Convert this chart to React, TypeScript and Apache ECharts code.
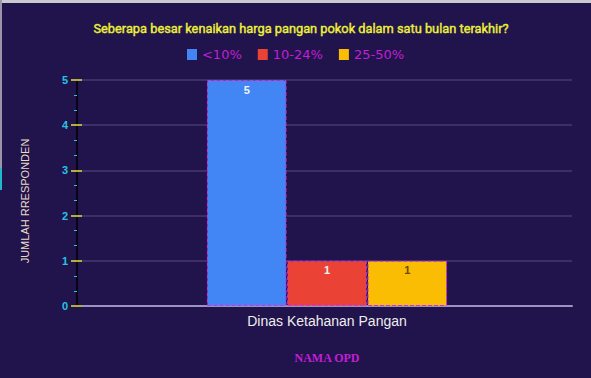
import React, { useEffect, useRef } from "react";
import * as echarts from "echarts";

const categories = ["Dinas Ketahanan Pangan"];
const seriesNames = ["<10%", "10-24%", "25-50%"];
const seriesValues = [[5], [1], [1]];
const seriesColors = ["#4285f4", "#ea4335", "#fbbc04"];
const labelColors = ["#f4f4f4", "#f4f4f4", "#6a4a00"];
const yTicks = [0, 1, 2, 3, 4, 5];

export default function App() {
  const ref = useRef<HTMLDivElement>(null);
  useEffect(() => {
    document.body.style.margin = "0";
    const chart = echarts.init(ref.current!, null, { renderer: "svg" });
    chart.setOption({
      animation: false,
      backgroundColor: "#21134b",
      title: {
        text: "Seberapa besar kenaikan harga pangan pokok dalam satu bulan terakhir?",
        left: 296,
        textAlign: "center",
        top: 17,
        textStyle: {
          color: "#eef03a",
          fontSize: 12.8,
          fontWeight: "normal",
          fontFamily: "Roboto, sans-serif",
          textBorderColor: "#eef03a",
          textBorderWidth: 0.4,
        },
      },
      legend: {
        top: 43,
        left: "center",
        itemWidth: 10,
        itemHeight: 11,
        itemGap: 16,
        icon: "rect",
        data: seriesNames,
        itemStyle: { borderWidth: 0 },
        textStyle: {
          color: "#c21fd6",
          fontSize: 13,
          fontFamily: "DejaVu Sans, sans-serif",
        },
      },
      graphic: [
        {
          type: "text",
          x: 25,
          y: 201,
          rotation: Math.PI / 2,
          style: {
            text: "JUMLAH RRESPONDEN",
            fill: "#e8dcc8",
            fontSize: 11,
            fontFamily: "Liberation Sans, Arial, sans-serif",
            align: "center",
            verticalAlign: "middle",
          },
        },
      ],
      grid: { left: 82, right: 19, top: 80, bottom: 72 },
      xAxis: {
        type: "category",
        data: categories,
        name: "NAMA OPD",
        nameLocation: "middle",
        nameGap: 46,
        nameTextStyle: {
          color: "#c21fd6",
          fontSize: 12,
          fontWeight: "bold",
          fontFamily: "Liberation Serif, Times New Roman, serif",
        },
        axisLine: { show: true, lineStyle: { color: "#9c93c4", width: 2 } },
        axisTick: { show: false },
        axisLabel: {
          color: "#eeeeee",
          fontSize: 14,
          margin: 8,
          fontFamily: "Liberation Sans, Arial, sans-serif",
        },
      },
      yAxis: [
        {
          type: "value",
          min: yTicks[0],
          max: yTicks[yTicks.length - 1],
          interval: 1,
          axisLine: { show: false },
          axisTick: { show: true, length: 11, lineStyle: { color: "#b3ad3a", width: 2 } },
          axisLabel: {
            color: "#25c3e6",
            fontSize: 11,
            fontWeight: "bold",
            margin: 14,
            fontFamily: "Liberation Sans, Arial, sans-serif",
          },
          splitLine: { show: true, lineStyle: { color: "#463a6e", width: 1.5 } },
        },
        {
          type: "value",
          min: yTicks[0],
          max: yTicks[yTicks.length - 1],
          interval: 1,
          position: "left",
          offset: 5,
          axisLine: { show: true, lineStyle: { color: "#000000", width: 1.5 } },
          axisTick: { show: false },
          minorTick: { show: true, splitNumber: 3, length: 3, lineStyle: { color: "#25c3e6", width: 1 } },
          axisLabel: { show: false },
          splitLine: { show: false },
        },
      ],
      series: seriesNames.map((name, i) => ({
        name,
        type: "bar",
        data: seriesValues[i],
        barGap: "1%",
        barCategoryGap: "51%",
        itemStyle: {
          color: seriesColors[i],
          borderColor: "#cc33dd",
          borderWidth: 1,
          borderType: "dashed",
        },
        label: {
          show: true,
          position: "insideTop",
          distance: 4,
          color: labelColors[i],
          fontSize: 11,
          fontWeight: "bold",
          fontFamily: "Liberation Sans, Arial, sans-serif",
        },
      })),
    });
    return () => chart.dispose();
  }, []);
  return (
    <div style={{ position: "fixed", left: 0, top: 0, width: 591, height: 378 }}>
      <div ref={ref} style={{ position: "absolute", left: 0, top: 0, width: 591, height: 378 }} />
      <div style={{ position: "absolute", left: 0, top: 0, width: 591, height: 3, background: "#c9c9cf" }} />
      <div style={{ position: "absolute", left: 0, top: 0, width: 2, height: 168, background: "#9a97a8" }} />
      <div style={{ position: "absolute", left: 0, top: 168, width: 2, height: 22, background: "#1fb8c8" }} />
    </div>
  );
}
